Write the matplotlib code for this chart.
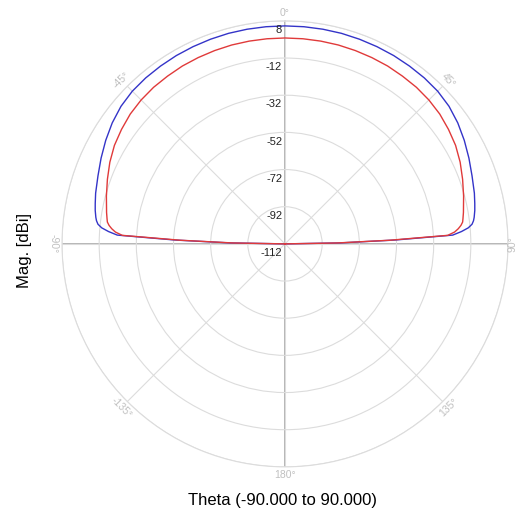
import matplotlib.pyplot as plt
import numpy as np

plt.rcParams['font.family'] = ['Liberation Sans', 'DejaVu Sans']

# pattern cut, theta in degrees (symmetric about 0)
theta_half = [0, 5, 10, 15, 20, 25, 30, 35, 40, 45, 50, 55, 60, 65, 70, 75, 78, 80, 82, 83, 84, 85, 86, 87, 88, 89, 90]
blue_half = [5.3, 5.3, 5.3, 5.3, 5.2, 5.1, 5.0, 4.8, 4.6, 4.2, 3.2, 1.5, -0.6, -2.8, -4.9, -6.5, -7.6, -8.3, -9.2,
             -9.8, -10.8, -13.0, -16.8, -21.6, -52.8, -82.4, -112.0]
red_half = [-1.2, -1.2, -1.2, -1.2, -1.3, -1.4, -1.5, -1.8, -2.0, -2.5, -3.3, -4.6, -6.0, -8.0, -10.3, -12.5, -13.8,
            -14.5, -15.3, -15.7, -16.8, -18.4, -20.5, -24.3, -55.5, -84.0, -112.0]

theta_deg = [-t for t in theta_half[:0:-1]] + theta_half
blue_db = blue_half[:0:-1] + blue_half
red_db = red_half[:0:-1] + red_half

r_ticks = [-112, -92, -72, -52, -32, -12, 8]
theta_ticks = [0, 45, 90, 135, 180, -135, -90, -45]
theta_labels = ['0°', '45°', '90°', '135°', '180°', '-135°', '-90°', '-45°']

fig = plt.figure(figsize=(5.18, 5.2), dpi=100)
ax = fig.add_axes([0.1197, 0.102, 0.861, 0.858], projection='polar')
ax.set_theta_zero_location('N')
ax.set_theta_direction(-1)
ax.set_rlim(-112, 8)
ax.set_rticks(r_ticks)
ax.set_yticklabels([])
ax.set_thetagrids(range(0, 360, 45), labels=[''] * 8)
ax.grid(True, color='#dcdcdc', linewidth=0.8)
ax.spines['polar'].set_color('#dcdcdc')
ax.spines['polar'].set_linewidth(0.8)

# main axes through the centre
ax.plot([0, np.pi], [8, 8], color='#a8a8a8', lw=1.2, zorder=1)
ax.plot([np.pi / 2, -np.pi / 2], [8, 8], color='#a8a8a8', lw=1.2, zorder=1)

th = np.deg2rad(theta_deg)
ax.plot(th, blue_db, color='#3434c8', lw=1.0, zorder=3)
ax.plot(th, red_db, color='#e03a3a', lw=1.0, zorder=3)

# radial labels just below each ring, left of the vertical axis
for v in r_ticks:
    ax.annotate(str(v), xy=(0, v), xytext=(-2, -3), textcoords='offset points',
                ha='right', va='top', fontsize=8, color='#222222')

# angle labels around the outside (the 90° one is pulled in a bit so it fits)
for t, lab in zip(theta_ticks, theta_labels):
    rot = (180 - t) % 360
    if rot > 180:
        rot -= 360
    if rot > 90:
        rot -= 180
    elif rot < -90:
        rot += 180
    r_lab = 10.2 if t == 90 else 12.4
    ax.text(np.deg2rad(t), r_lab, lab, rotation=rot, rotation_mode='anchor',
            ha='center', va='center', fontsize=7.5, color='#c0c0c0')

fig.text(0.048, 0.519, 'Mag. [dBi]', rotation=90, ha='center', va='center', fontsize=12)
fig.text(0.546, 0.038, 'Theta (-90.000 to 90.000)', ha='center', va='center', fontsize=12)

plt.savefig('out.png', dpi=100, facecolor='white')
plt.close()
